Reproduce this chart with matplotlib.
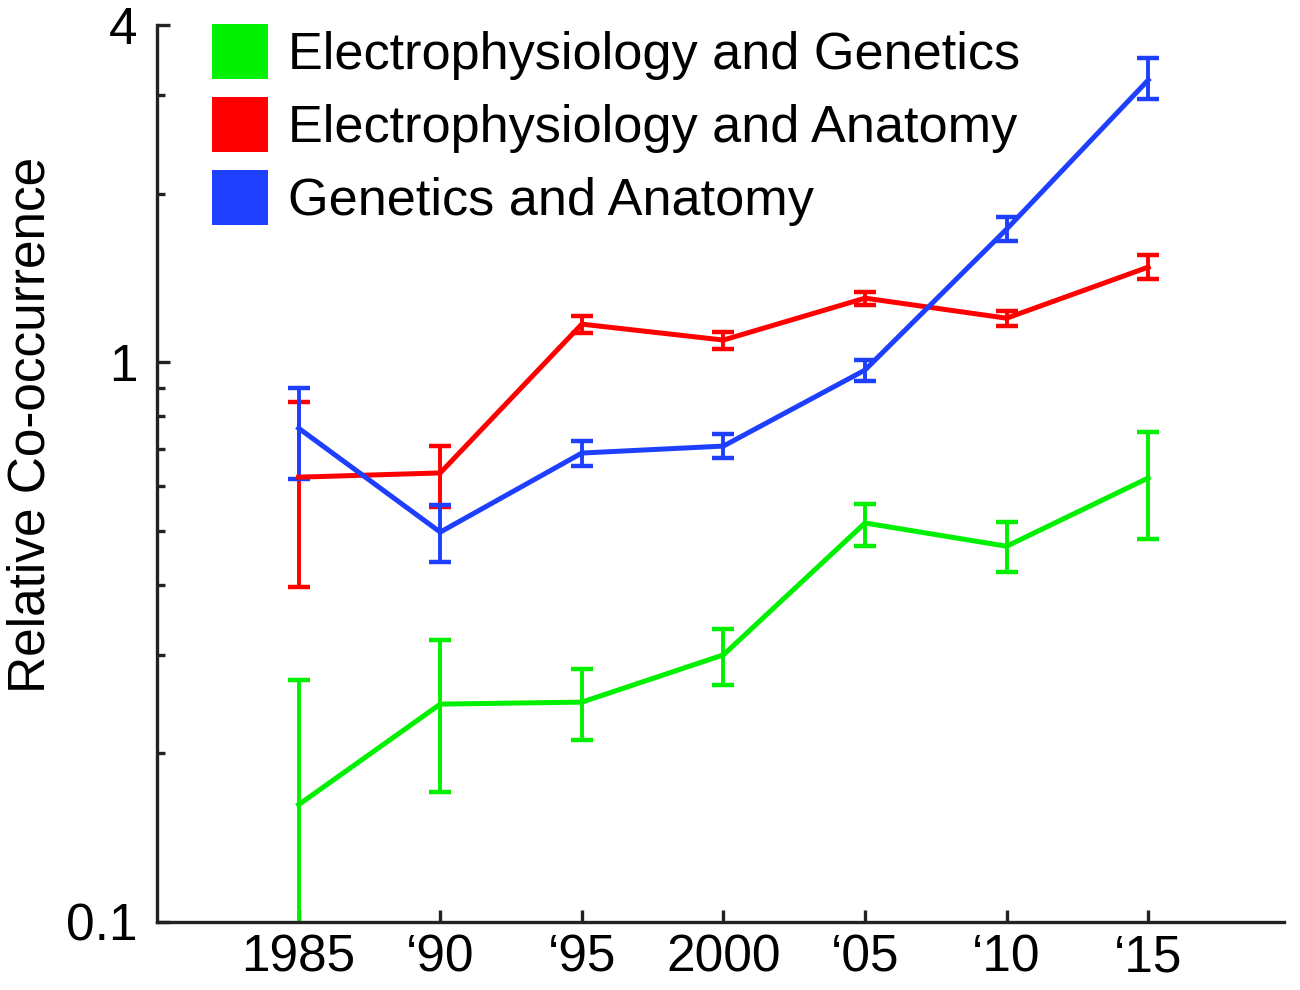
import matplotlib
matplotlib.use("Agg")
import matplotlib.pyplot as plt
from matplotlib.patches import Patch
from matplotlib.ticker import LogLocator, NullFormatter, FixedLocator, FixedFormatter

plt.rcParams['font.family'] = ['Liberation Sans', 'DejaVu Sans']

# data (log scale, mean with lower/upper error ends)
years = [1985, 1990, 1995, 2000, 2005, 2010, 2015]
year_labels = ['1985', '\u201890', '\u201895', '2000', '\u201805', '\u201810', '\u201815']

ephys_gen = [0.162, 0.245, 0.247, 0.300, 0.516, 0.469, 0.621]
ephys_gen_lo = [0.080, 0.171, 0.211, 0.265, 0.469, 0.422, 0.483]
ephys_gen_hi = [0.271, 0.319, 0.283, 0.334, 0.558, 0.518, 0.750]

ephys_anat = [0.623, 0.634, 1.169, 1.095, 1.301, 1.198, 1.478]
ephys_anat_lo = [0.397, 0.551, 1.127, 1.055, 1.264, 1.160, 1.407]
ephys_anat_hi = [0.848, 0.708, 1.208, 1.131, 1.334, 1.234, 1.553]

gen_anat = [0.762, 0.497, 0.688, 0.708, 0.968, 1.728, 3.19]
gen_anat_lo = [0.618, 0.440, 0.652, 0.674, 0.925, 1.644, 2.95]
gen_anat_hi = [0.899, 0.555, 0.723, 0.744, 1.008, 1.815, 3.49]

labels = ['Electrophysiology and Genetics', 'Electrophysiology and Anatomy', 'Genetics and Anatomy']
colors = ['#00f000', '#ff0000', '#1f3fff']

series = [
    (ephys_gen, ephys_gen_lo, ephys_gen_hi),
    (ephys_anat, ephys_anat_lo, ephys_anat_hi),
    (gen_anat, gen_anat_lo, gen_anat_hi),
]

fig = plt.figure(figsize=(13, 9.9), dpi=100)
ax = fig.add_axes([0.1208, 0.0687, 0.867, 0.906])

for (mid, lo, hi), col in zip(series, colors):
    err = [[m - l for m, l in zip(mid, lo)], [h - m for m, h in zip(mid, hi)]]
    ax.errorbar(years, mid, yerr=err, color=col, lw=3.6, elinewidth=2.8,
                capsize=8, capthick=3.2)

ax.set_yscale('log')
ax.set_ylim(0.1, 4)
ax.set_xlim(1980, 2019.8)

ax.yaxis.set_major_locator(FixedLocator([0.1, 1, 4]))
ax.yaxis.set_major_formatter(FixedFormatter(['0.1', '1', '4']))
ax.yaxis.set_minor_locator(LogLocator(base=10, subs=[2, 3, 4, 5, 6, 7, 8, 9]))
ax.yaxis.set_minor_formatter(NullFormatter())
ax.set_xticks(years)
ax.set_xticklabels(year_labels)

for side in ['top', 'right']:
    ax.spines[side].set_visible(False)
for side in ['left', 'bottom']:
    ax.spines[side].set_linewidth(2.4)
    ax.spines[side].set_color('#222222')

ax.tick_params(axis='both', which='major', direction='in', length=9, width=2.4,
               labelsize=37, color='#222222')
ax.tick_params(axis='y', which='minor', direction='in', length=6, width=2.4, color='#222222')
ax.tick_params(axis='y', which='major', pad=14)
ax.tick_params(axis='x', which='major', pad=8)

ax.set_ylabel('Relative Co-occurrence', fontsize=37)
ax.yaxis.set_label_coords(-0.09, 0.554)

handles = [Patch(facecolor=c, edgecolor='none') for c in colors]
ax.legend(handles, labels, loc='upper left', bbox_to_anchor=(0.0488, 1.0015),
          frameon=False, fontsize=37.6, handlelength=1.073, handleheight=1.25,
          handletextpad=0.384, labelspacing=0.325, borderaxespad=0, borderpad=0)

fig.savefig('out.png', dpi=100)
